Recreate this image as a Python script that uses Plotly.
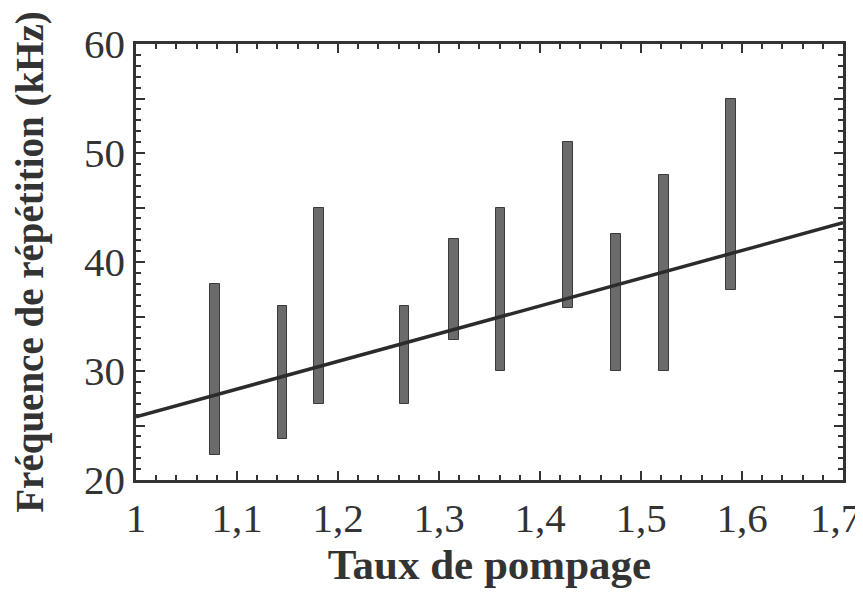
import plotly.graph_objects as go

# Range bars: pump ratio, lower and upper repetition frequency (kHz)
pump_ratio = [1.078, 1.145, 1.181, 1.266, 1.315, 1.361, 1.428, 1.475, 1.523, 1.589]
freq_low = [22.3, 23.8, 27.0, 27.0, 32.8, 30.0, 35.8, 30.0, 30.0, 37.4]
freq_high = [38.0, 36.0, 45.0, 36.0, 42.1, 45.0, 51.0, 42.6, 48.0, 55.0]

# Fitted line end points
fit_x = [1.0, 1.7]
fit_y = [25.8, 43.6]

x_ticks = [1.0, 1.1, 1.2, 1.3, 1.4, 1.5, 1.6, 1.7]
# the last label is drawn as an annotation, nudged left to stay on the page
x_ticktext = ["1", "1,1", "1,2", "1,3", "1,4", "1,5", "1,6", ""]
last_label = "1,7"
y_ticks = [20, 25, 30, 35, 40, 45, 50, 55, 60]
y_ticktext = ["20", "", "30", "", "40", "", "50", "", "60"]

serif = "Liberation Serif, Times New Roman, serif"

fig = go.Figure()

fig.add_trace(go.Bar(
    x=pump_ratio,
    y=[h - l for h, l in zip(freq_high, freq_low)],
    base=freq_low,
    width=0.0095,
    marker=dict(color="#6b6b6b", line=dict(color="#3a3a3a", width=1)),
    showlegend=False,
))

fig.add_trace(go.Scatter(
    x=fit_x, y=fit_y, mode="lines",
    line=dict(color="#2b2b2b", width=3.5),
    showlegend=False,
))

axis_common = dict(
    showgrid=False, zeroline=False, automargin=False,
    showline=True, linecolor="#333333", linewidth=2.5,
    ticks="inside", tickcolor="#333333", tickwidth=2,
    mirror="allticks", ticklabeloverflow="allow",
    tickfont=dict(family=serif, size=41, color="#333333"),
)

fig.update_xaxes(
    range=[1.0, 1.7], tickvals=x_ticks, ticktext=x_ticktext, ticklen=9,
    minor=dict(dtick=0.02, ticks="inside", ticklen=5, tickwidth=2, tickcolor="#333333"),
    title=dict(text="<b>Taux de pompage</b>", font=dict(family=serif, size=43, color="#333333"), standoff=2),
    **axis_common,
)
fig.update_yaxes(
    range=[20, 60], tickvals=y_ticks, ticktext=y_ticktext, ticklen=9,
    minor=dict(dtick=1, ticks="inside", ticklen=5, tickwidth=2, tickcolor="#333333"),
    title=dict(text="<b>Fréquence de répétition (kHz)</b>", font=dict(family=serif, size=39, color="#333333"), standoff=38),
    **axis_common,
)

fig.add_annotation(
    x=x_ticks[-1], xref="x", y=0, yref="paper",
    text=last_label, showarrow=False,
    xanchor="center", yanchor="middle", xshift=-8, yshift=-38,
    font=dict(family=serif, size=41, color="#333333"),
)

# the page body has an 8px margin, so the figure is 8px smaller than the window
fig.update_layout(
    width=855, height=586,
    margin=dict(l=128, r=20, t=36, b=114),
    paper_bgcolor="white", plot_bgcolor="white",
    bargap=0,
)

fig.write_html("out.html")
